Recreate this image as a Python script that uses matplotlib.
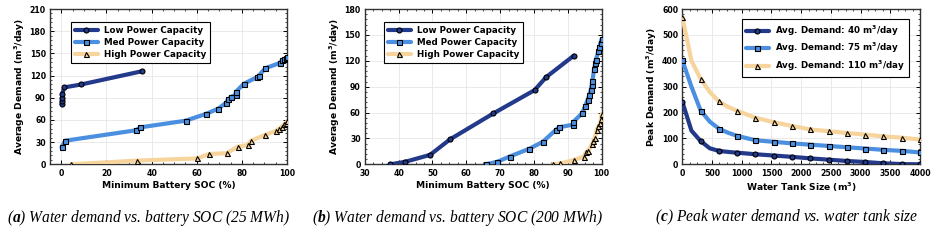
import matplotlib
matplotlib.use("Agg")
import matplotlib.pyplot as plt
from matplotlib.ticker import MultipleLocator, AutoMinorLocator

# (a) 25 MWh battery
a_low_x = [0.1, 0.3, 0.4, 0.4, 1.3, 8.8, 35.9]
a_low_y = [82, 85, 90, 95, 104, 108, 126]
a_med_x = [0.1, 1.8, 33.0, 35.0, 55.1, 63.9, 69.4, 72.9, 73.9, 75.0, 77.3, 77.3,
           80.9, 86.8, 87.5, 90.4, 96.8, 97.8, 98.8, 99.7, 100.0]
a_med_y = [23, 32, 46, 50, 59, 68, 75, 83, 88, 91, 94, 98,
           109, 118, 120, 130, 137, 141, 142, 144, 145]
a_high_x = [4.1, 33.4, 60.2, 65.4, 73.2, 78.3, 82.5, 84.1, 90.4, 94.9, 96.3, 97.7,
            98.7, 99.7, 100.0]
a_high_y = [0, 5, 8, 14, 15, 24, 26, 32, 40, 45, 48, 51, 54, 56, 58]

# (b) 200 MWh battery
b_low_x = [37.5, 42.0, 49.3, 55.2, 68.0, 80.2, 83.6, 91.8]
b_low_y = [0, 3, 11, 29, 59, 86, 101, 126]
b_med_x = [65.7, 69.2, 72.8, 78.6, 82.6, 86.5, 87.5, 91.6, 91.6, 94.2, 95.2, 95.9,
           96.4, 96.8, 97.1, 97.3, 97.8, 98.2, 98.3, 99.1, 99.3, 99.7, 100.0]
b_med_y = [0, 3, 9, 18, 26, 40, 43, 46, 49, 59, 68, 75,
           80, 86, 92, 97, 110, 118, 121, 131, 136, 141, 145]
b_high_x = [85.7, 87.8, 91.8, 94.7, 95.4, 96.1, 97.1, 97.6, 98.0, 98.6, 99.1, 99.6,
            99.8, 100.0]
b_high_y = [0, 1, 5, 9, 14, 16, 23, 27, 31, 40, 44, 48, 53, 58]

# (c) peak demand vs tank size
tank_x = [0, 154, 308, 462, 615, 770, 923, 1231, 1538, 1846, 2154, 2462,
          2769, 3077, 3385, 3692, 4000]
tank_marks = [0, 2, 4, 6, 7, 8, 9, 10, 11, 12, 13, 14, 15, 16]
peak_40 = [242, 130, 90, 62, 52, 48, 45, 39, 34, 29, 23, 18, 13, 9, 4, 1, 0]
peak_75 = [402, 300, 208, 165, 138, 122, 110, 93, 87, 81, 76, 71, 66, 61, 56, 52, 46]
peak_110 = [570, 400, 330, 280, 243, 222, 207, 180, 163, 148, 135, 128, 121, 115,
            108, 103, 96]

cap_labels = ["Low Power Capacity", "Med Power Capacity", "High Power Capacity"]
dem_labels = ["Avg. Demand: 40 m$^3$/day", "Avg. Demand: 75 m$^3$/day",
              "Avg. Demand: 110 m$^3$/day"]
cap_tags = ["a", "b", "c"]
captions = ["Water demand vs. battery SOC (25 MWh)",
            "Water demand vs. battery SOC (200 MWh)",
            "Peak water demand vs. water tank size"]

colors = ["#233a8b", "#4a8fe0", "#f6d49c"]
markers = ["o", "s", "^"]

plt.rcParams["font.family"] = "DejaVu Sans"
plt.rcParams["font.weight"] = "bold"
plt.rcParams["axes.labelweight"] = "bold"
# bold-italic serif for the caption tags, other math stays in DejaVu Sans
plt.rcParams["mathtext.fontset"] = "custom"
plt.rcParams["mathtext.rm"] = "DejaVu Sans"
plt.rcParams["mathtext.it"] = "DejaVu Sans:italic"
plt.rcParams["mathtext.bf"] = "Liberation Serif:italic:bold"

fig = plt.figure(figsize=(9.38, 2.49), dpi=100)
ax_a = fig.add_axes([0.0533, 0.340, 0.2527, 0.6237])
ax_b = fig.add_axes([0.389, 0.340, 0.2523, 0.6237])
ax_c = fig.add_axes([0.7274, 0.340, 0.2534, 0.6237])


def draw(ax, xs, ys, labels, markevery=None):
    for x, y, lab, c, m in zip(xs, ys, labels, colors, markers):
        ax.plot(x, y, color=c, lw=3, marker=m, ms=3.6, mfc=c, mec="black",
                mew=0.8, label=lab, markevery=markevery, solid_capstyle="round",
                solid_joinstyle="round", zorder=3)


def style(ax):
    ax.grid(True, color="#e6e6e6", lw=0.6, zorder=0)
    ax.tick_params(which="both", direction="in", top=True, right=True,
                   labelsize=5.6)
    ax.tick_params(axis="x", pad=3.5)
    ax.tick_params(axis="y", pad=3)
    ax.tick_params(which="major", length=3, width=0.7)
    ax.tick_params(which="minor", length=1.6, width=0.5)
    ax.xaxis.set_minor_locator(AutoMinorLocator(4))
    ax.yaxis.set_minor_locator(AutoMinorLocator(5))
    for sp in ax.spines.values():
        sp.set_color("#333333")
        sp.set_linewidth(1.0)
    for t in ax.get_xticklabels() + ax.get_yticklabels():
        t.set_fontweight("bold")


draw(ax_a, [a_low_x, a_med_x, a_high_x], [a_low_y, a_med_y, a_high_y], cap_labels)
ax_a.set_xlim(-5, 100)
ax_a.set_ylim(0, 210)
ax_a.xaxis.set_major_locator(MultipleLocator(20))
ax_a.yaxis.set_major_locator(MultipleLocator(30))
ax_a.set_xlabel("Minimum Battery SOC (%)", fontsize=6.6, labelpad=2)
ax_a.set_ylabel("Average Demand (m$^3$/day)", fontsize=6.6, labelpad=2)

draw(ax_b, [b_low_x, b_med_x, b_high_x], [b_low_y, b_med_y, b_high_y], cap_labels)
ax_b.set_xlim(30, 100)
ax_b.set_ylim(0, 180)
ax_b.xaxis.set_major_locator(MultipleLocator(10))
ax_b.yaxis.set_major_locator(MultipleLocator(30))
ax_b.set_xlabel("Minimum Battery SOC (%)", fontsize=6.6, labelpad=2)
ax_b.set_ylabel("Average Demand (m$^3$/day)", fontsize=6.6, labelpad=2)

draw(ax_c, [tank_x] * 3, [peak_40, peak_75, peak_110], dem_labels, markevery=tank_marks)
ax_c.set_xlim(0, 4000)
ax_c.set_ylim(0, 600)
ax_c.xaxis.set_major_locator(MultipleLocator(500))
ax_c.yaxis.set_major_locator(MultipleLocator(100))
ax_c.set_xlabel("Water Tank Size (m$^3$)", fontsize=6.6, labelpad=2)
ax_c.set_ylabel("Peak Demand (m$^3$/day)", fontsize=6.6, labelpad=2)

for ax in (ax_a, ax_b, ax_c):
    style(ax)

leg_kw = dict(fontsize=6.3, frameon=True, fancybox=False, edgecolor="black",
              framealpha=1, handlelength=2.6, borderpad=0.45, labelspacing=0.35,
              handletextpad=0.7)
for ax, anchor, loc in [(ax_a, (0.07, 0.945), "upper left"),
                        (ax_b, (0.063, 0.945), "upper left"),
                        (ax_c, (0.972, 0.962), "upper right")]:
    leg = ax.legend(loc=loc, bbox_to_anchor=anchor, **leg_kw)
    leg.get_frame().set_linewidth(0.8)
    leg.set_zorder(5)

# captions: "(x)" with a bold tag, then italic text
for xpos, tag, cap in zip([0.0075, 0.333, 0.698], cap_tags, captions):
    fig.text(xpos, 0.125, "(" + r"$\mathbf{" + tag + "}$" + ") " + cap,
             fontsize=11.2, family="Liberation Serif", style="italic",
             fontweight="normal", ha="left", va="center")

fig.savefig("out.png", dpi=100)
